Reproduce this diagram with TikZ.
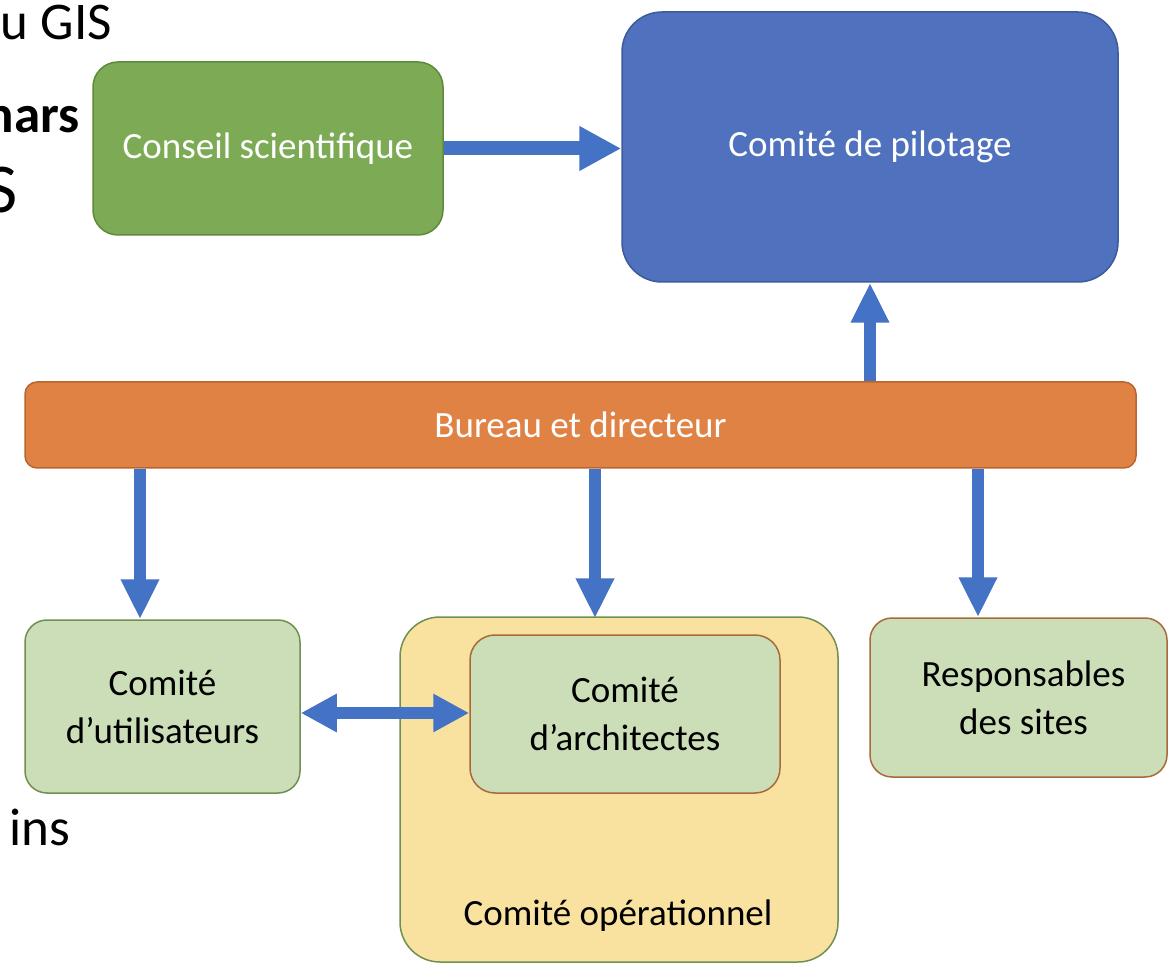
\documentclass[tikz,border=0pt]{standalone}
\usepackage{fontspec}
\setmainfont{Carlito}
\usetikzlibrary{arrows.meta}
\definecolor{cgreen}{HTML}{7DAA55}
\definecolor{cgreenD}{HTML}{5E8A3C}
\definecolor{cblue}{HTML}{4F71BE}
\definecolor{cblueD}{HTML}{3D5A9B}
\definecolor{corange}{HTML}{DF8244}
\definecolor{corangeD}{HTML}{B8662E}
\definecolor{clight}{HTML}{CBDEB8}
\definecolor{cyellow}{HTML}{F9E2A0}
\definecolor{cborderG}{HTML}{6E9050}
\definecolor{cbrown}{HTML}{A86A3A}
\definecolor{carrow}{HTML}{4472C4}
\tikzset{
  box/.style={rectangle, line width=1.5pt, align=center, inner sep=0pt,
    font=\fontsize{37}{48}\selectfont},
  arr/.style={carrow, line width=12pt,
    -{Triangle[width=36pt,length=40pt]}},
  darr/.style={carrow, line width=12pt,
    {Triangle[width=36pt,length=36pt]}-{Triangle[width=36pt,length=36pt]}},
  frag/.style={inner sep=0pt, font=\fontsize{53}{60}\selectfont}
}
\begin{document}
\begin{tikzpicture}[x=1pt,y=-1pt]
\useasboundingbox (0,0) rectangle (1168,965);
\clip (0,0) rectangle (1168,965);
% background text fragments
\node[frag, anchor=base east] (f1) at (112,40) {u GIS};
\node[frag, anchor=base east, font=\fontsize{53}{60}\selectfont\bfseries] (f2) at (80,133) {hars};
\node[frag, anchor=base east, font=\fontsize{70}{80}\selectfont] (f3) at (18,213) {S};
\node[frag, anchor=base east] (f4) at (70,845) {ins};
% boxes
\node[box, fill=cgreen, draw=cgreenD, text=white, rounded corners=25pt,
  minimum width=350pt, minimum height=173pt] (cons) at (268,148.5) {Conseil scientifique};
\node[box, fill=cblue, draw=cblueD, text=white, rounded corners=40pt,
  minimum width=496pt, minimum height=270pt] (pil) at (870,147) {Comité de pilotage};
\node[box, fill=corange, draw=corangeD, text=white, rounded corners=12pt,
  minimum width=1111pt, minimum height=86pt] (bur) at (580.5,425) {Bureau et directeur};
\node[box, fill=clight, draw=cborderG, rounded corners=22pt,
  minimum width=275pt, minimum height=173pt] (util) at (162.5,706.5) {Comité\\d’utilisateurs};
\node[box, fill=cyellow, draw=cborderG, rounded corners=40pt,
  minimum width=438pt, minimum height=345pt] (ops) at (619,789.5) {};
\node[box] (opslab) at (618,916) {Comité opérationnel};
\node[box, fill=clight, draw=cbrown, rounded corners=25pt,
  minimum width=310pt, minimum height=158pt] (arch) at (625,714) {Comité\\d’architectes};
\node[box, fill=clight, draw=cbrown, rounded corners=22pt,
  minimum width=297pt, minimum height=159pt] (resp) at (1018.5,697.5) {\hspace*{10pt}Responsables\\\hspace*{10pt}des sites};
% connector anchors
\coordinate (x1) at (140,0);
\coordinate (x2) at (595,0);
\coordinate (x3) at (978,0);
% arrows
\draw[arr, line width=14pt, -{Triangle[width=42pt,length=42pt]}] (cons.east) -- (cons.east -| pil.west);
\draw[arr] (bur.north -| pil.south) -- (pil.south);
\draw[arr] (bur.south -| x1) -- (util.north -| x1);
\draw[arr] (bur.south -| x2) -- ([yshift=-2pt]ops.north -| x2);
\draw[arr] (bur.south -| x3) -- (resp.north -| x3);
\draw[darr] (util.east |- 0,713) -- (arch.west |- 0,713);
\end{tikzpicture}
\end{document}
